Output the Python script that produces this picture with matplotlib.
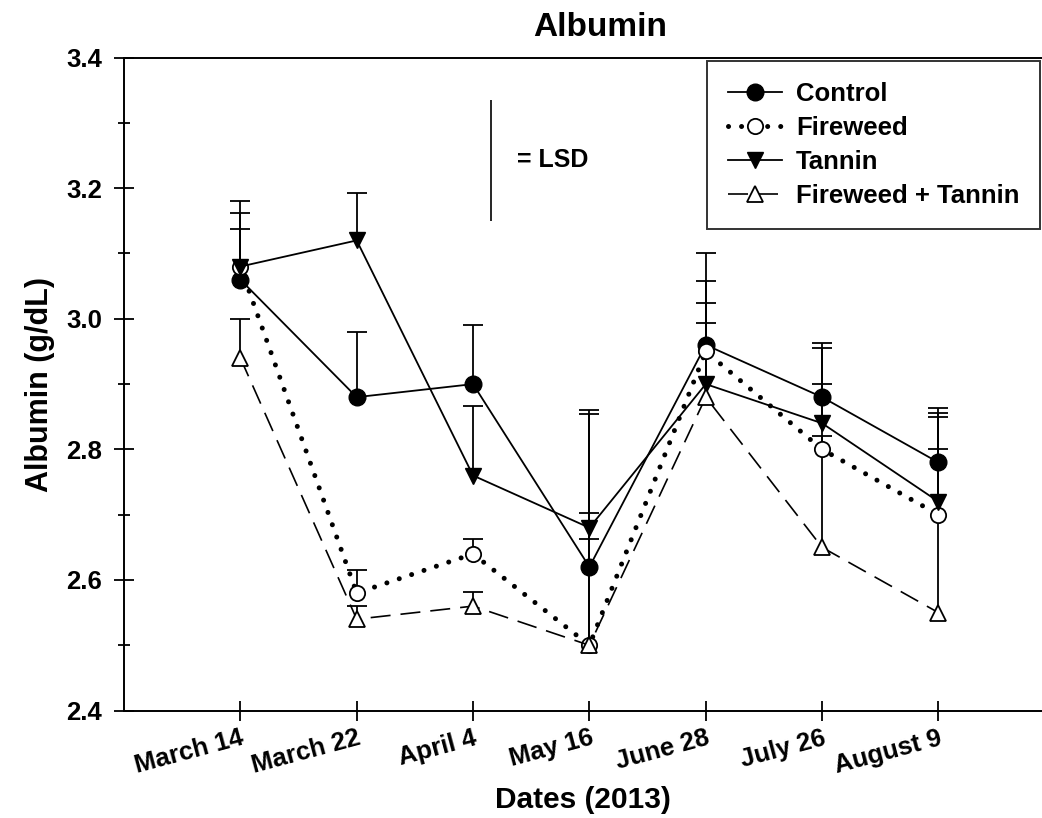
import numpy as np
import matplotlib
matplotlib.use('Agg')
from matplotlib import pyplot as plt
from matplotlib.ticker import MultipleLocator

plt.rcParams['font.family'] = ['Liberation Sans', 'DejaVu Sans']
plt.rcParams['font.weight'] = 'bold'

dates = ['March 14', 'March 22', 'April 4', 'May 16', 'June 28', 'July 26', 'August 9']

control = [3.06, 2.88, 2.90, 2.62, 2.96, 2.88, 2.78]
control_err = [0.12, 0.10, 0.09, 0.043, 0.14, 0.083, 0.084]

fireweed = [3.08, 2.58, 2.64, 2.50, 2.95, 2.80, 2.70]
fireweed_err = [0.082, 0.036, 0.023, 0.36, 0.108, 0.02, 0.10]

tannin = [3.08, 3.12, 2.76, 2.68, 2.90, 2.84, 2.72]
tannin_err = [0.057, 0.073, 0.107, 0.022, 0.124, 0.116, 0.136]

fw_tannin = [2.94, 2.54, 2.56, 2.50, 2.88, 2.65, 2.55]
fw_tannin_err = [0.06, 0.02, 0.022, 0.354, 0.114, 0.25, 0.30]

lsd = 0.185
lsd_top = 3.335


def upper_errors(ax, x, y, err):
    y = np.array(y)
    top = y + np.array(err)
    ax.vlines(x, y, top, color='black', lw=1.3, zorder=1)
    ax.plot(x, top, ls='none', marker='_', markersize=15, markeredgewidth=1.3,
            color='black', zorder=1)


def main():
    fig = plt.figure(figsize=(10.42, 8.18), dpi=100)
    ax = fig.add_axes([0.119, 0.1313, 0.881, 0.7983])
    x = np.arange(1, len(dates) + 1)

    series = [
        ('Control', control, control_err,
         dict(ls='-', lw=1.3, marker='o', mfc='black', mec='black', ms=12)),
        ('Fireweed', fireweed, fireweed_err,
         dict(ls=(0, (0.01, 2.6)), lw=3.6, dash_capstyle='round', marker='o',
              mfc='white', mec='black', mew=1.3, ms=11)),
        ('Tannin', tannin, tannin_err,
         dict(ls='-', lw=1.3, marker='v', mfc='black', mec='black', ms=12)),
        ('Fireweed + Tannin', fw_tannin, fw_tannin_err,
         dict(ls=(0, (12, 6)), lw=1.2, marker='^', mfc='white', mec='black',
              mew=1.3, ms=12)),
    ]

    for name, vals, err, style in series:
        upper_errors(ax, x, vals, err)
    for name, vals, err, style in series:
        ax.plot(x, vals, color='black', label=name, zorder=3, **style)

    # LSD bar
    ax.vlines(3.15, lsd_top - lsd, lsd_top, color='black', lw=1.2)
    ax.text(3.38, lsd_top - lsd / 2, '= LSD', fontsize=18, fontweight='bold',
            va='center', ha='left')

    ax.set_xlim(0, 7.89)
    ax.set_ylim(2.4, 3.4)
    ax.set_xticks(x)
    ax.set_xticklabels(dates, rotation=15, ha='right', va='top',
                       rotation_mode='anchor', fontsize=18, fontweight='bold')
    ax.yaxis.set_major_locator(MultipleLocator(0.2))
    ax.yaxis.set_minor_locator(MultipleLocator(0.1))
    ax.set_yticklabels(['%.1f' % v for v in ax.get_yticks()])
    ax.tick_params(axis='both', which='major', direction='inout', length=14,
                   width=1.3, labelsize=18.5)
    ax.tick_params(axis='y', which='minor', direction='inout', length=9, width=1.3)
    ax.tick_params(axis='x', pad=4)
    ax.tick_params(axis='y', pad=9)

    ax.spines['right'].set_visible(False)
    for s in ['left', 'top', 'bottom']:
        ax.spines[s].set_linewidth(1.4)

    ax.set_xlabel('Dates (2013)', fontsize=21.5, fontweight='bold', labelpad=6)
    ax.set_ylabel('Albumin (g/dL)', fontsize=22, fontweight='bold', labelpad=8)
    fig.text(0.576, 0.966, 'Albumin', fontsize=24, fontweight='bold',
             ha='center', va='center')

    leg = ax.legend(loc='upper right', fontsize=18.5,
                    frameon=True, fancybox=False, edgecolor='black',
                    handlelength=2.1, handletextpad=0.55, labelspacing=0.4,
                    borderpad=0.8, borderaxespad=0)
    leg.get_frame().set_linewidth(1.4)
    leg.set_bbox_to_anchor((1 - 2 / 1042, 1 - 61 / 818), transform=fig.transFigure)

    fig.savefig('out.png', dpi=100)


if __name__ == "__main__":
    main()
